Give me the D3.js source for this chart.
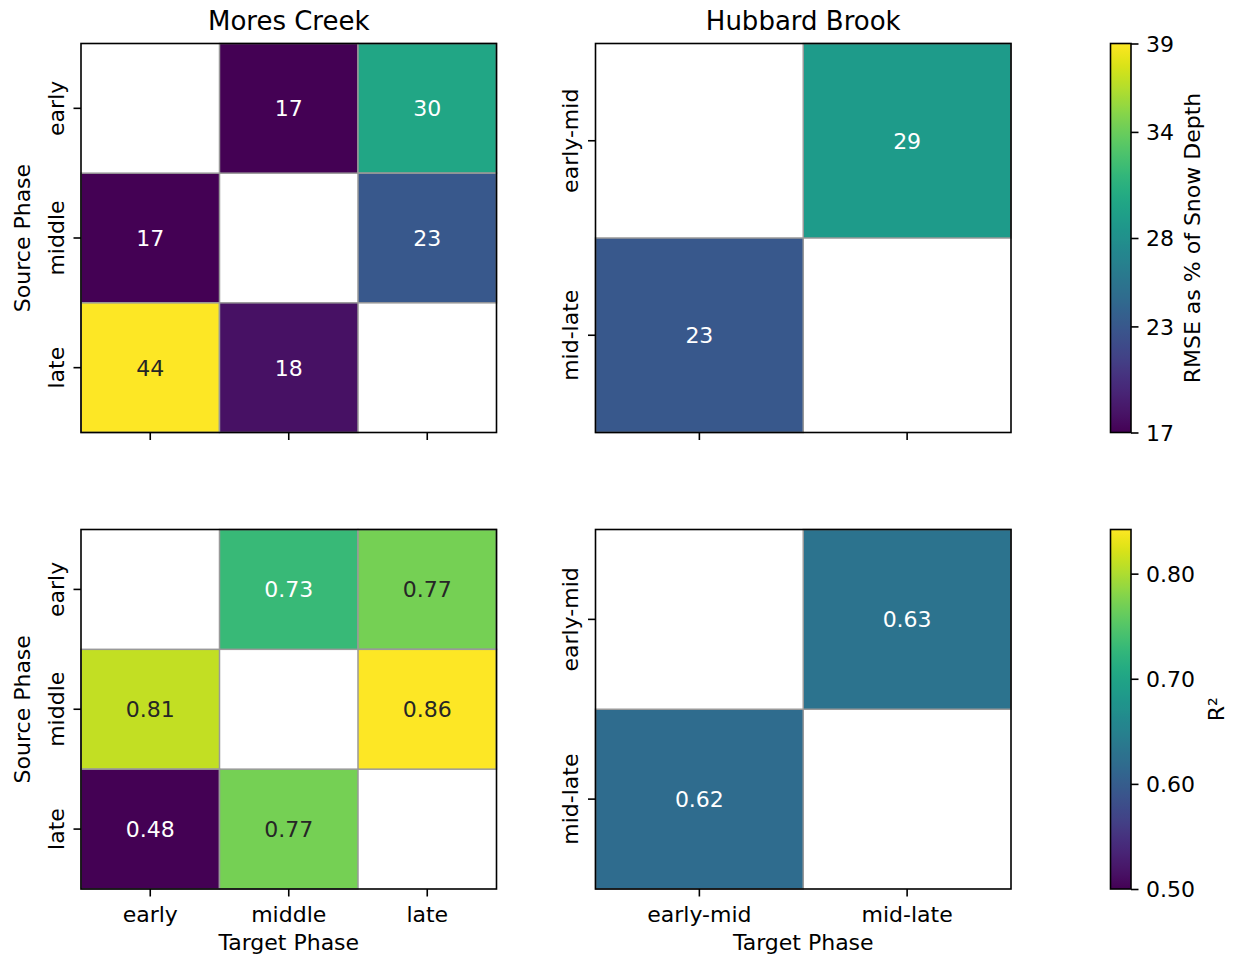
<!DOCTYPE html>
<html>
<head>
<meta charset="utf-8">
<script src="https://cdn.jsdelivr.net/npm/d3@7"></script>
<style>
  body { margin: 0; background: #fff; }
  text { font-family: "DejaVu Sans", sans-serif; fill: #000; }
</style>
</head>
<body>
<svg width="1233" height="959"></svg>
<script>
// phases on each site
var moresPhases = ["early", "middle", "late"];
var hubbardPhases = ["early-mid", "mid-late"];

// rows = source phase, columns = target phase (null = same phase, left blank)
var moresRmse = [[null, 17, 30], [17, null, 23], [44, 18, null]];
var hubbardRmse = [[null, 29], [23, null]];
var moresR2 = [[null, 0.73, 0.77], [0.81, null, 0.86], [0.48, 0.77, null]];
var hubbardR2 = [[null, 0.63], [0.62, null]];

// colorbar ranges and ticks
var rmseRange = [17, 39];
var rmseTicks = [17, 23, 28, 34, 39];
var r2Range = [0.5, 0.842];
var r2Ticks = [0.5, 0.6, 0.7, 0.8];

var svg = d3.select("svg");
var fs = 22;

var rmseColor = d3.scaleSequential(d3.interpolateViridis).domain(rmseRange).clamp(true);
var r2Color = d3.scaleSequential(d3.interpolateViridis).domain(r2Range).clamp(true);

// dark text on light cells, white on dark (like seaborn)
function textColor(c) {
  var rgb = d3.rgb(c);
  function lin(v) { v /= 255; return v <= 0.03928 ? v / 12.92 : Math.pow((v + 0.055) / 1.055, 2.4); }
  var L = 0.2126 * lin(rgb.r) + 0.7152 * lin(rgb.g) + 0.0722 * lin(rgb.b);
  return L > 0.408 ? "#262626" : "#ffffff";
}

function heatmap(x0, y0, w, h, phases, values, color, fmt, showX, title) {
  var g = svg.append("g");
  var x = d3.scaleBand().domain(phases).range([x0, x0 + w]);
  var y = d3.scaleBand().domain(phases).range([y0, y0 + h]);

  var cells = [];
  values.forEach(function(row, i) {
    row.forEach(function(v, j) {
      if (v !== null) cells.push({ src: phases[i], tgt: phases[j], v: v });
    });
  });

  g.selectAll("rect.cell").data(cells).enter().append("rect")
    .attr("class", "cell")
    .attr("x", function(d) { return x(d.tgt); })
    .attr("y", function(d) { return y(d.src); })
    .attr("width", x.bandwidth())
    .attr("height", y.bandwidth())
    .attr("fill", function(d) { return color(d.v); })
    .attr("stroke", "#999")
    .attr("stroke-width", 1.5);

  g.selectAll("text.ann").data(cells).enter().append("text")
    .attr("class", "ann")
    .attr("x", function(d) { return x(d.tgt) + x.bandwidth() / 2; })
    .attr("y", function(d) { return y(d.src) + y.bandwidth() / 2; })
    .attr("dy", "0.36em")
    .attr("text-anchor", "middle")
    .style("font-size", fs + "px")
    .style("fill", function(d) { return textColor(color(d.v)); })
    .text(function(d) { return fmt(d.v); });

  // frame
  g.append("rect")
    .attr("x", x0).attr("y", y0).attr("width", w).attr("height", h)
    .attr("fill", "none").attr("stroke", "#000").attr("stroke-width", 1.6);

  // x ticks
  var xa = g.append("g").attr("transform", "translate(0," + (y0 + h) + ")")
    .call(d3.axisBottom(x).tickSize(7.5).tickPadding(7.5).tickFormat(showX ? null : function() { return ""; }));
  xa.select(".domain").remove();
  xa.selectAll("line").attr("stroke", "#000").attr("stroke-width", 1.6);
  xa.selectAll("text").style("font-size", fs + "px").attr("dy", null).attr("y", 33);

  // y ticks, labels rotated
  var ya = g.append("g").attr("transform", "translate(" + x0 + ",0)")
    .call(d3.axisLeft(y).tickSize(7.5).tickFormat(function() { return ""; }));
  ya.select(".domain").remove();
  ya.selectAll("line").attr("stroke", "#000").attr("stroke-width", 1.6);
  g.selectAll("text.ylab").data(phases).enter().append("text")
    .attr("class", "ylab")
    .attr("transform", function(d) { return "translate(" + (x0 - 17.5) + "," + (y(d) + y.bandwidth() / 2) + ") rotate(-90)"; })
    .attr("text-anchor", "middle")
    .style("font-size", fs + "px")
    .text(function(d) { return d; });

  if (title) {
    g.append("text").attr("x", x0 + w / 2).attr("y", 30)
      .attr("text-anchor", "middle").style("font-size", "26px").text(title);
  }
  if (showX) {
    g.append("text").attr("x", x0 + w / 2).attr("y", 950)
      .attr("text-anchor", "middle").style("font-size", fs + "px").text("Target Phase");
  }
}

function colorbar(id, x0, y0, w, h, range, ticks, color, fmt, label, labelX) {
  var grad = svg.append("defs").append("linearGradient").attr("id", id)
    .attr("x1", 0).attr("y1", 1).attr("x2", 0).attr("y2", 0);
  d3.range(0, 1.001, 0.02).forEach(function(t) {
    grad.append("stop").attr("offset", t).attr("stop-color", d3.interpolateViridis(t));
  });
  svg.append("rect").attr("x", x0).attr("y", y0).attr("width", w).attr("height", h)
    .attr("fill", "url(#" + id + ")").attr("stroke", "#000").attr("stroke-width", 1.6);
  var s = d3.scaleLinear().domain(range).range([y0 + h, y0]);
  var a = svg.append("g").attr("transform", "translate(" + (x0 + w) + ",0)")
    .call(d3.axisRight(s).tickValues(ticks).tickSize(7.5).tickPadding(7.5).tickFormat(fmt));
  a.select(".domain").remove();
  a.selectAll("line").attr("stroke", "#000").attr("stroke-width", 1.6);
  a.selectAll("text").style("font-size", fs + "px").attr("dy", "0.36em");
  svg.append("text")
    .attr("transform", "translate(" + labelX + "," + (y0 + h / 2) + ") rotate(-90)")
    .attr("text-anchor", "middle").style("font-size", fs + "px").text(label);
}

var leftX = 81, rightX = 595.5, panelW = 415.5;
var topY = 43.5, topH = 389, botY = 529.5, botH = 359.5;

heatmap(leftX, topY, panelW, topH, moresPhases, moresRmse, rmseColor, d3.format(".0f"), false, "Mores Creek");
heatmap(rightX, topY, panelW, topH, hubbardPhases, hubbardRmse, rmseColor, d3.format(".0f"), false, "Hubbard Brook");
heatmap(leftX, botY, panelW, botH, moresPhases, moresR2, r2Color, d3.format(".2f"), true, null);
heatmap(rightX, botY, panelW, botH, hubbardPhases, hubbardR2, r2Color, d3.format(".2f"), true, null);

// Source Phase labels on the left
[topY + topH / 2, botY + botH / 2].forEach(function(cy) {
  svg.append("text")
    .attr("transform", "translate(30," + cy + ") rotate(-90)")
    .attr("text-anchor", "middle").style("font-size", fs + "px").text("Source Phase");
});

colorbar("gradTop", 1110.5, topY, 20.5, topH, rmseRange, rmseTicks, rmseColor, d3.format(".0f"), "RMSE as % of Snow Depth", 1200);
colorbar("gradBot", 1110.5, botY, 20.5, botH, r2Range, r2Ticks, r2Color, d3.format(".2f"), "R²", 1224);
</script>
</body>
</html>
